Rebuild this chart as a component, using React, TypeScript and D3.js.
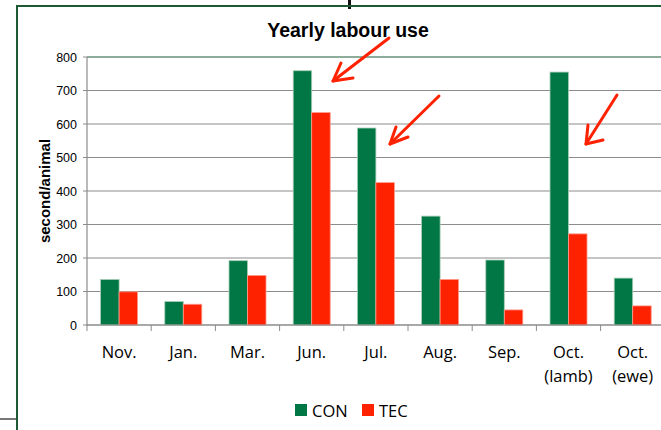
import React from 'react'
import * as d3 from 'd3'

const categories = ['Nov.', 'Jan.', 'Mar.', 'Jun.', 'Jul.', 'Aug.', 'Sep.', 'Oct.\n(lamb)', 'Oct.\n(ewe)']
const seriesNames = ['CON', 'TEC']
const conValues = [136, 70, 192, 759, 588, 325, 194, 755, 140]
const tecValues = [99, 62, 148, 634, 425, 136, 45, 272, 57]
const yTicks = [0, 100, 200, 300, 400, 500, 600, 700, 800]
const colors: Record<string, string> = { CON: '#007744', TEC: '#ff2200' }

// hand drawn arrows on the slide (from, tip, wing1, wing2)
const arrows = [
  [[389, 38], [333, 81], [341, 63], [353, 78]],
  [[439, 96], [390, 144], [396, 127], [408, 137]],
  [[617, 95], [586, 144], [588, 125], [603, 140]],
]

export default function App() {
  const W = 661, H = 430
  const left = 87, top = 57, bottom = 325
  const step = 64.2
  const x = d3.scaleBand<string>().domain(categories).range([left, left + step * categories.length]).padding(0)
  const xs = d3.scaleBand<string>().domain(seriesNames).range([0, x.bandwidth()]).paddingInner(0).paddingOuter(0.735)
  const y = d3.scaleLinear().domain([0, 800]).range([bottom, top])
  const rows = categories.map((c, i) => ({ c, CON: conValues[i], TEC: tecValues[i] }))

  return (
    <svg width={W} height={H} style={{ position: 'absolute', left: 0, top: 0, background: '#fff' }}>
      <rect x={0} y={0} width={W} height={H} fill='#fff' />
      {/* slide leftovers */}
      <rect x={348} y={0} width={3} height={9} fill='#111' />
      <line x1={0} x2={16} y1={419} y2={419} stroke='#777' strokeWidth={2} />
      {/* chart frame */}
      <rect x={17} y={6} width={W} height={H} fill='none' stroke='#1d5a34' strokeWidth={2} />

      <text x={348} y={37} textAnchor='middle' fontFamily='Liberation Sans, Arial, sans-serif' fontWeight='bold' fontSize={19.5} fill='#000'>Yearly labour use</text>

      {/* grid */}
      {yTicks.map(t => (
        <line key={`g${t}`} x1={left} x2={W} y1={y(t)} y2={y(t)} stroke={t === 800 ? '#1d5a34' : '#8c8c8c'} strokeWidth={1.2} />
      ))}
      {/* y axis */}
      <line x1={left} x2={left} y1={top} y2={bottom + 1} stroke='#8c8c8c' strokeWidth={1.2} />
      {yTicks.map(t => (
        <g key={`t${t}`}>
          <line x1={left - 4} x2={left} y1={y(t)} y2={y(t)} stroke='#8c8c8c' />
          <text x={77} y={y(t) + 4.5} textAnchor='end' fontFamily='Liberation Sans, Arial, sans-serif' fontSize={12.5} fill='#000'>{t}</text>
        </g>
      ))}
      <text transform={`translate(50,191) rotate(-90)`} textAnchor='middle' fontFamily='Liberation Sans, Arial, sans-serif' fontWeight='bold' fontSize={15} fill='#000'>second/animal</text>

      {/* bars */}
      {rows.map(r => (
        <g key={r.c} transform={`translate(${x(r.c)},0)`}>
          {seriesNames.map(s => (
            <rect key={s} x={xs(s)} y={y((r as any)[s])} width={xs.bandwidth()} height={bottom - y((r as any)[s])}
              fill={colors[s]} stroke={s === 'CON' ? '#a9cdb6' : '#ff9a8a'} strokeWidth={0.8} />
          ))}
        </g>
      ))}

      {/* x axis */}
      <line x1={left} x2={W} y1={bottom} y2={bottom} stroke='#8c8c8c' strokeWidth={1.2} />
      {categories.map(c => (
        <line key={`xt${c}`} x1={x(c)} x2={x(c)} y1={bottom} y2={bottom + 6} stroke='#8c8c8c' />
      ))}
      {categories.map(c => (
        <text key={`xl${c}`} textAnchor='middle' fontFamily='Open Sans, sans-serif' fontSize={16.5} fill='#000'>
          {c.split('\n').map((ln, i) => (
            <tspan key={i} x={(x(c) as number) + x.bandwidth() / 2} y={358 + i * 24}>{ln}</tspan>
          ))}
        </text>
      ))}

      {/* legend */}
      {seriesNames.map((s, i) => (
        <g key={`lg${s}`} transform={`translate(${295 + i * 67},404)`}>
          <rect x={0} y={0} width={12} height={12} fill={colors[s]} />
          <text x={17} y={13} fontFamily='Open Sans, sans-serif' fontSize={16.5} fill='#000'>{s}</text>
        </g>
      ))}

      {/* arrows */}
      {arrows.map((a, i) => (
        <g key={`ar${i}`} stroke='#ff2200' strokeWidth={3} strokeLinecap='round' strokeLinejoin='round' fill='none'>
          <path d={`M${a[0][0]},${a[0][1]}L${a[1][0]},${a[1][1]}`} />
          <path d={`M${a[2][0]},${a[2][1]}L${a[1][0]},${a[1][1]}L${a[3][0]},${a[3][1]}`} />
        </g>
      ))}
    </svg>
  )
}
